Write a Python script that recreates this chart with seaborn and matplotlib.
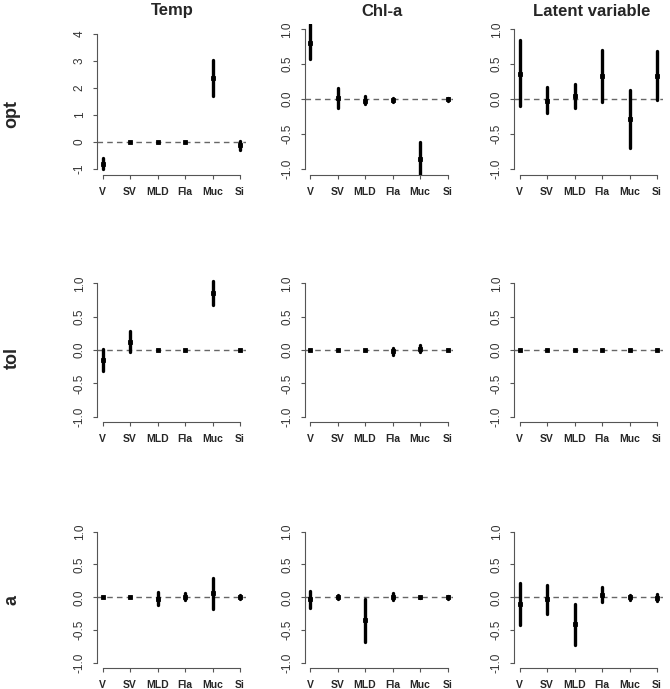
import numpy as np
import pandas as pd
import seaborn as sns
import matplotlib.pyplot as plt

# covariates on the x axis
covars = ["V", "SV", "MLD", "Fla", "Muc", "Si"]
columns = ["Temp", "Chl-a", "Latent variable"]
rows = ["opt", "tol", "a"]

# estimates and interval limits
opt_temp_est = [-0.80, 0.0, 0.0, 0.0, 2.38, -0.12]
opt_temp_lo = [-1.00, 0.0, 0.0, 0.0, 1.72, -0.28]
opt_temp_hi = [-0.60, 0.0, 0.0, 0.0, 3.05, 0.05]

opt_chl_est = [0.80, 0.02, -0.02, -0.01, -0.85, 0.0]
opt_chl_lo = [0.58, -0.12, -0.07, -0.04, -1.10, -0.02]
opt_chl_hi = [1.07, 0.16, 0.05, 0.02, -0.62, 0.02]

opt_lat_est = [0.36, -0.02, 0.05, 0.33, -0.28, 0.33]
opt_lat_lo = [-0.10, -0.20, -0.12, -0.04, -0.70, -0.01]
opt_lat_hi = [0.85, 0.17, 0.21, 0.71, 0.13, 0.69]

tol_temp_est = [-0.15, 0.12, 0.0, 0.0, 0.85, 0.0]
tol_temp_lo = [-0.31, -0.03, 0.0, 0.0, 0.68, 0.0]
tol_temp_hi = [0.01, 0.28, 0.0, 0.0, 1.04, 0.0]

tol_chl_est = [0.0, 0.0, 0.0, -0.02, 0.02, 0.0]
tol_chl_lo = [0.0, 0.0, 0.0, -0.07, -0.03, 0.0]
tol_chl_hi = [0.0, 0.0, 0.0, 0.03, 0.07, 0.0]

tol_lat_est = [0.0, 0.0, 0.0, 0.0, 0.0, 0.0]
tol_lat_lo = [0.0, 0.0, 0.0, 0.0, 0.0, 0.0]
tol_lat_hi = [0.0, 0.0, 0.0, 0.0, 0.0, 0.0]

a_temp_est = [0.0, 0.0, -0.02, 0.01, 0.06, 0.0]
a_temp_lo = [0.0, 0.0, -0.12, -0.04, -0.18, -0.03]
a_temp_hi = [0.0, 0.0, 0.08, 0.06, 0.30, 0.03]

a_chl_est = [-0.03, 0.0, -0.35, 0.01, 0.0, 0.0]
a_chl_lo = [-0.17, -0.03, -0.68, -0.04, -0.01, -0.02]
a_chl_hi = [0.10, 0.03, -0.02, 0.06, 0.01, 0.02]

a_lat_est = [-0.10, -0.03, -0.41, 0.03, 0.0, -0.01]
a_lat_lo = [-0.43, -0.26, -0.73, -0.08, -0.04, -0.06]
a_lat_hi = [0.22, 0.18, -0.10, 0.15, 0.03, 0.05]

panels = [
    [(opt_temp_est, opt_temp_lo, opt_temp_hi),
     (opt_chl_est, opt_chl_lo, opt_chl_hi),
     (opt_lat_est, opt_lat_lo, opt_lat_hi)],
    [(tol_temp_est, tol_temp_lo, tol_temp_hi),
     (tol_chl_est, tol_chl_lo, tol_chl_hi),
     (tol_lat_est, tol_lat_lo, tol_lat_hi)],
    [(a_temp_est, a_temp_lo, a_temp_hi),
     (a_chl_est, a_chl_lo, a_chl_hi),
     (a_lat_est, a_lat_lo, a_lat_hi)],
]

sns.set_theme(style="white")
plt.rcParams['font.family'] = ['Liberation Sans', 'DejaVu Sans']
plt.rcParams['axes.unicode_minus'] = False

W, H = 670, 689
fig = plt.figure(figsize=(W / 100, H / 100), dpi=100)

# panel boxes in pixels
col_left = [97, 304.5, 514]
col_width = 148.5
row_box = [(23.7, 174.6), (278, 422), (526.5, 668)]

axis_col = '#555555'

for r in range(3):
    for c in range(3):
        est, lo, hi = panels[r][c]
        top, bottom = row_box[r]
        if r == 0 and c == 0:
            top = 28.6
        ax = fig.add_axes([col_left[c] / W, 1 - bottom / H, col_width / W, (bottom - top) / H])

        # long table: lo/est/hi per covariate -> median = est, 100% interval = [lo, hi]
        d = pd.DataFrame({
            'covar': covars * 3,
            'value': list(lo) + list(est) + list(hi),
        })
        ax.axhline(0, color='#666666', lw=1.0, ls=(0, (4, 3)), zorder=0)
        sns.pointplot(data=d, x='covar', y='value', order=covars, estimator='median',
                      errorbar=('pi', 100), color='black', linestyle='none', marker='s',
                      markersize=3.0, markeredgewidth=0.6, err_kws={'linewidth': 2.4}, ax=ax)

        if r == 0 and c == 0:
            yt = [-1, 0, 1, 2, 3, 4]
            ylab = [str(v) for v in yt]
            ax.set_ylim(-1.2, 4.2)
        else:
            yt = [-1.0, -0.5, 0.0, 0.5, 1.0]
            ylab = [f'{v:.1f}' for v in yt]
            ax.set_ylim(-1.08, 1.08)
        ax.set_xlim(-0.2, 5.2)
        ax.set_yticks(yt)
        ax.set_yticklabels(ylab, rotation=90, va='center', fontsize=8.5, color='#333333')
        ax.set_xticks(range(len(covars)))
        ax.set_xticklabels(covars, fontsize=7.5, fontweight='bold')
        ax.set_xlabel('')
        ax.set_ylabel('')
        ax.grid(False)

        for s in ['top', 'right']:
            ax.spines[s].set_visible(False)
        for s in ['left', 'bottom']:
            ax.spines[s].set_color(axis_col)
            ax.spines[s].set_linewidth(0.8)
        ax.spines['left'].set_bounds(yt[0], yt[-1])
        ax.spines['bottom'].set_bounds(0, len(covars) - 1)
        ax.tick_params(axis='both', direction='out', length=3, width=0.8, color=axis_col,
                       left=True, bottom=True)
        ax.tick_params(axis='y', pad=5)
        ax.tick_params(axis='x', pad=6)

# column titles
for x, t in zip([172, 382, 592], columns):
    fig.text(x / W, 1 - 11 / H, t, ha='center', va='center', fontsize=12, fontweight='bold')

# row labels
for y, t in zip([114, 358, 600], rows):
    fig.text(12 / W, 1 - y / H, t, ha='center', va='center', rotation=90,
             fontsize=13, fontweight='bold')

plt.savefig('out.png', dpi=100)
